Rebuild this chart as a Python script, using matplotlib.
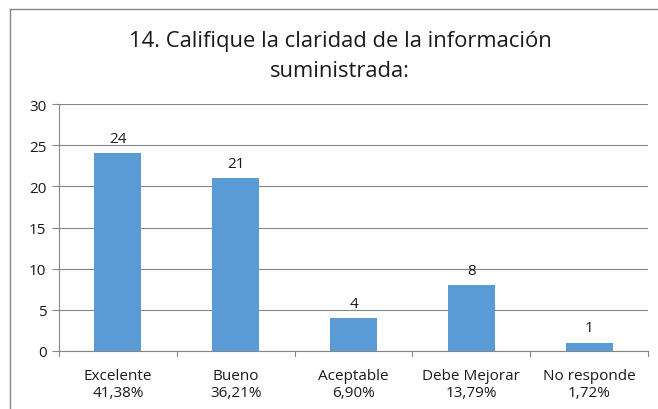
import matplotlib.pyplot as plt
from matplotlib.lines import Line2D

categories = ['Excelente', 'Bueno', 'Aceptable', 'Debe Mejorar', 'No responde']
percents = ['41,38%', '36,21%', '6,90%', '13,79%', '1,72%']
values = [24, 21, 4, 8, 1]

plt.rcParams['font.family'] = ['Open Sans', 'DejaVu Sans']

W, H = 658, 410
fig = plt.figure(figsize=(W / 100, H / 100), dpi=100)
ax = fig.add_axes([59 / W, 1 - 352 / H, (648 - 59) / W, (352 - 105) / H])

x = list(range(len(values)))
bars = ax.bar(x, values, width=0.4, color='#5B9BD5', zorder=3)
for xi, v in zip(x, values):
    ax.text(xi, v + 0.9, str(v), ha='center', va='bottom', fontsize=11, color='#1a1a1a')

ax.set_xlim(-0.5, len(values) - 0.5)
ax.set_ylim(0, 30)
ax.set_yticks(range(0, 31, 5))
ax.yaxis.grid(True, color='#868686', linewidth=0.8, zorder=0)
ax.set_xticks(x)
ax.set_xticklabels([c + '\n' + p for c, p in zip(categories, percents)], fontsize=11, color='#1a1a1a', linespacing=1.2)
ax.tick_params(axis='x', length=0, pad=12)
ax.tick_params(axis='y', length=5, color='#868686', labelsize=11, labelcolor='#1a1a1a', pad=4)

# category boundary ticks below the axis
for b in [i - 0.5 for i in range(len(values) + 1)]:
    ax.plot([b, b], [0, -0.6], color='#868686', linewidth=0.8, clip_on=False)

for s in ['top', 'right']:
    ax.spines[s].set_visible(False)
ax.spines['left'].set_color('#868686')
ax.spines['bottom'].set_color('#868686')
ax.spines['left'].set_linewidth(0.8)
ax.spines['bottom'].set_linewidth(0.8)

tx = 340 / W
fig.text(tx, 1 - 42 / H, '14. Califique la claridad de la información', ha='center', va='center', fontsize=15.8, color='#1a1a1a')
fig.text(tx, 1 - 72 / H, 'suministrada:', ha='center', va='center', fontsize=15.8, color='#1a1a1a')

# chart outer border
fig.add_artist(Line2D([10 / W, 10 / W], [0, 1 - 10 / H], color='#868686', linewidth=1, transform=fig.transFigure))
fig.add_artist(Line2D([10 / W, 1], [1 - 10 / H, 1 - 10 / H], color='#868686', linewidth=1, transform=fig.transFigure))

fig.savefig('out.png', dpi=100)
